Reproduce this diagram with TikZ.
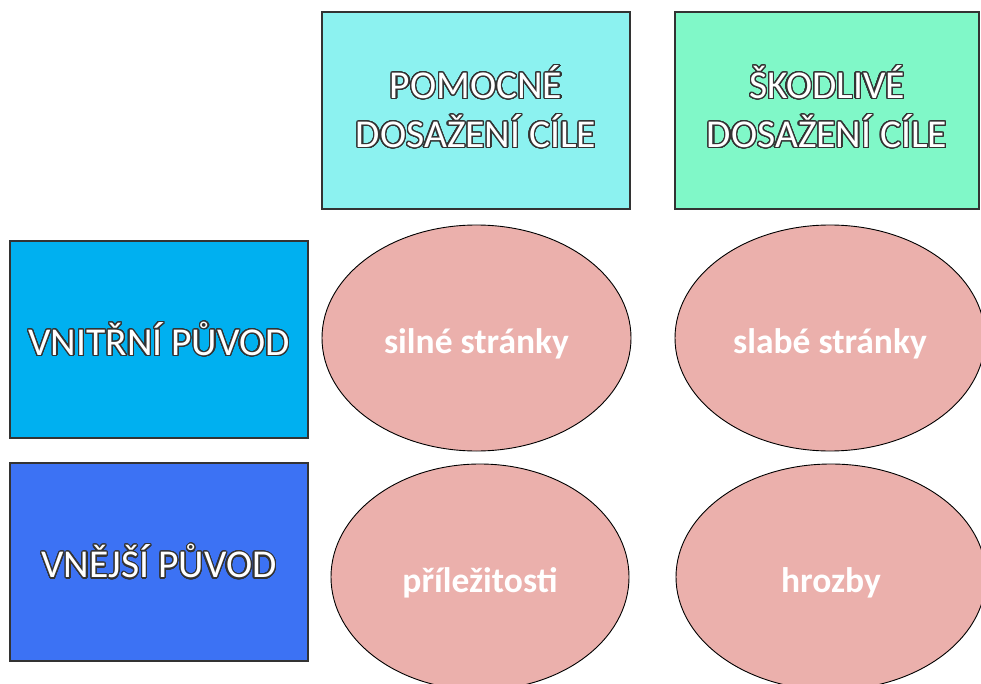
\documentclass[tikz,border=0pt]{standalone}
\usepackage{fontspec}
\setmainfont{Carlito}
\usepackage[copies]{contour}
\contourlength{1.2pt}
\contournumber{32}
\usetikzlibrary{shapes.geometric}
\definecolor{cyanbox}{HTML}{8CF2F0}
\definecolor{mintbox}{HTML}{80F8C8}
\definecolor{skybox}{HTML}{00B0F0}
\definecolor{bluebox}{HTML}{3C72F4}
\definecolor{pinkell}{HTML}{EBB0AC}
\definecolor{outl}{HTML}{333333}
\tikzset{
  hbox/.style={draw=outl, line width=1.3pt, rectangle, inner sep=0pt, text=white, align=center,
    font=\fontsize{39.5}{49}\selectfont},
  oval/.style={draw=black, line width=0.9pt, ellipse, inner sep=0pt, fill=pinkell, text=white,
    font=\fontsize{35.5}{40}\selectfont\bfseries, text height=36pt},
}
\newcommand{\outtxt}[1]{\contour{outl}{#1}}
\begin{document}
\begin{tikzpicture}[x=1pt,y=-1pt]
\useasboundingbox (0,0) rectangle (981,684);
\clip (0,0) rectangle (981,684);
\node[hbox, fill=cyanbox, minimum width=308pt, minimum height=197pt, text depth=8pt] (pom) at (476,110.5)
  {\outtxt{POMOCNÉ}\\\outtxt{DOSAŽENÍ CÍLE}};
\node[hbox, fill=mintbox, minimum width=304pt, minimum height=197pt, text depth=8pt] (sko) at (827,110.5)
  {\outtxt{ŠKODLIVÉ}\\\outtxt{DOSAŽENÍ CÍLE}};
\node[hbox, fill=skybox, minimum width=298pt, minimum height=197pt] (vni) at (159,339.5)
  {\outtxt{VNITŘNÍ PŮVOD}};
\node[hbox, fill=bluebox, minimum width=298pt, minimum height=198pt] (vne) at (159,562)
  {\outtxt{VNĚJŠÍ PŮVOD}};
\node[oval, minimum width=309pt, minimum height=226pt] (sil) at (476.5,338) {silné stránky};
\node[oval, minimum width=310pt, minimum height=226pt] (sla) at (830,338) {slabé stránky};
\node[oval, minimum width=298pt, minimum height=226pt] (pri) at (480,577) {příležitosti};
\node[oval, minimum width=310pt, minimum height=226pt] (hro) at (831,577) {hrozby};
\end{tikzpicture}
\end{document}
